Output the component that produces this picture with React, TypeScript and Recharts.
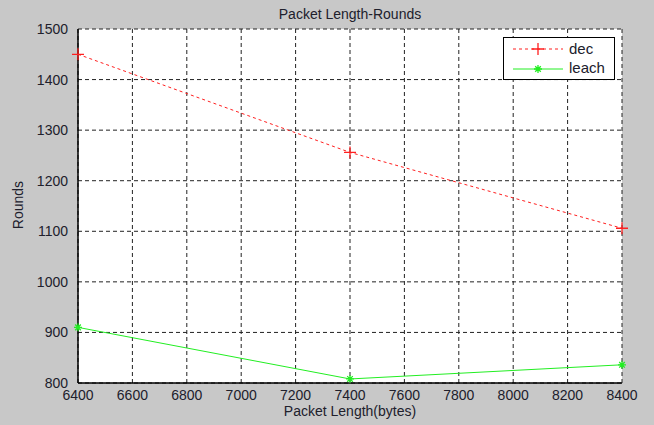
import React from 'react'
import {
  LineChart,
  Line,
  XAxis,
  YAxis,
  CartesianGrid,
} from 'recharts'

const packetLengths = [6400, 7400, 8400]
const decRounds = [1450, 1256, 1106]
const leachRounds = [910, 808, 836]
const xTicks = [6400, 6600, 6800, 7000, 7200, 7400, 7600, 7800, 8000, 8200, 8400]
const yTicks = [800, 900, 1000, 1100, 1200, 1300, 1400, 1500]

const data = packetLengths.map((x, i) => ({ x, dec: decRounds[i], leach: leachRounds[i] }))

const FONT = '"Liberation Sans", Arial, sans-serif'
const TEXT = '#20202c'
const RED = '#ff2020'
const GREEN = '#22ee22'

function PlusDot({ cx, cy, index }: { cx?: number; cy?: number; index?: number }) {
  if (cx == null || cy == null) return null
  return (
    <path
      key={`p-${index}`}
      d={`M${cx - 6},${cy}H${cx + 6}M${cx},${cy - 6}V${cy + 6}`}
      stroke={RED}
      strokeWidth={1.3}
      fill="none"
    />
  )
}

function StarDot({ cx, cy, index }: { cx?: number; cy?: number; index?: number }) {
  if (cx == null || cy == null) return null
  const r = 4
  const d = r * 0.7
  return (
    <path
      key={`s-${index}`}
      d={`M${cx - r},${cy}H${cx + r}M${cx},${cy - r}V${cy + r}M${cx - d},${cy - d}L${cx + d},${cy + d}M${cx - d},${cy + d}L${cx + d},${cy - d}`}
      stroke={GREEN}
      strokeWidth={1.3}
      fill="none"
    />
  )
}

function LegendBox() {
  return (
    <div
      style={{
        position: 'absolute', left: 503, top: 37, width: 110, height: 41,
        background: '#fff', border: '1px solid #000', fontFamily: FONT, fontSize: 15, color: TEXT,
      }}
    >
      <svg width={60} height={41} style={{ position: 'absolute', left: 0, top: 0 }}>
        <line x1={9} y1={11} x2={59} y2={11} stroke={RED} strokeWidth={1} strokeDasharray="3 3" />
        <PlusDot cx={34} cy={11} />
        <line x1={9} y1={31} x2={59} y2={31} stroke={GREEN} strokeWidth={1} />
        <StarDot cx={34} cy={31} />
      </svg>
      <div style={{ position: 'absolute', left: 65, top: 2 }}>dec</div>
      <div style={{ position: 'absolute', left: 65, top: 21 }}>leach</div>
    </div>
  )
}

export default function App() {
  return (
    <div style={{ position: 'absolute', left: 0, top: 0, width: 654, height: 425, background: '#c8c8c8', overflow: 'hidden' }}>
      <LineChart width={654} height={425} data={data} margin={{ top: 29, right: 32, left: 0, bottom: 0 }}>
        <CartesianGrid stroke="#222" strokeDasharray="4 3" strokeWidth={1} fill="#fff" />
        <XAxis
          dataKey="x"
          type="number"
          domain={[6400, 8400]}
          ticks={xTicks}
          height={42}
          tickLine={false}
          axisLine={{ stroke: '#000', strokeWidth: 1.5 }}
          tick={{ fontSize: 14, fill: TEXT, fontFamily: FONT }}
          tickMargin={1}
          interval={0}
        />
        <XAxis xAxisId="top" dataKey="x" type="number" domain={[6400, 8400]} orientation="top" height={0}
          tick={false} tickLine={false} axisLine={{ stroke: '#000', strokeWidth: 1.5 }} />
        <YAxis
          type="number"
          domain={[800, 1500]}
          ticks={yTicks}
          width={78}
          tickLine={false}
          axisLine={{ stroke: '#000', strokeWidth: 1.5 }}
          tick={{ fontSize: 14, fill: TEXT, fontFamily: FONT }}
          tickMargin={4}
          interval={0}
        />
        <YAxis yAxisId="right" orientation="right" domain={[800, 1500]} width={0}
          tick={false} tickLine={false} axisLine={{ stroke: '#000', strokeWidth: 1.5 }} />
        <Line
          type="linear"
          dataKey="dec"
          stroke={RED}
          strokeWidth={1}
          strokeDasharray="3 3"
          dot={<PlusDot />}
          activeDot={false}
          isAnimationActive={false}
        />
        <Line
          type="linear"
          dataKey="leach"
          stroke={GREEN}
          strokeWidth={1}
          dot={<StarDot />}
          activeDot={false}
          isAnimationActive={false}
        />
      </LineChart>
      <div style={{ position: 'absolute', left: 78, width: 544, top: 6, textAlign: 'center', fontFamily: FONT, fontSize: 14, color: TEXT }}>
        Packet Length-Rounds
      </div>
      <div style={{ position: 'absolute', left: 78, width: 544, top: 403, lineHeight: '16px', textAlign: 'center', fontFamily: FONT, fontSize: 14, color: TEXT }}>
        Packet Length(bytes)
      </div>
      <div
        style={{
          position: 'absolute', left: 18, top: 205, transform: 'translate(-50%, -50%) rotate(-90deg)',
          fontFamily: FONT, fontSize: 14, color: TEXT, whiteSpace: 'nowrap',
        }}
      >
        Rounds
      </div>
      <LegendBox />
    </div>
  )
}
